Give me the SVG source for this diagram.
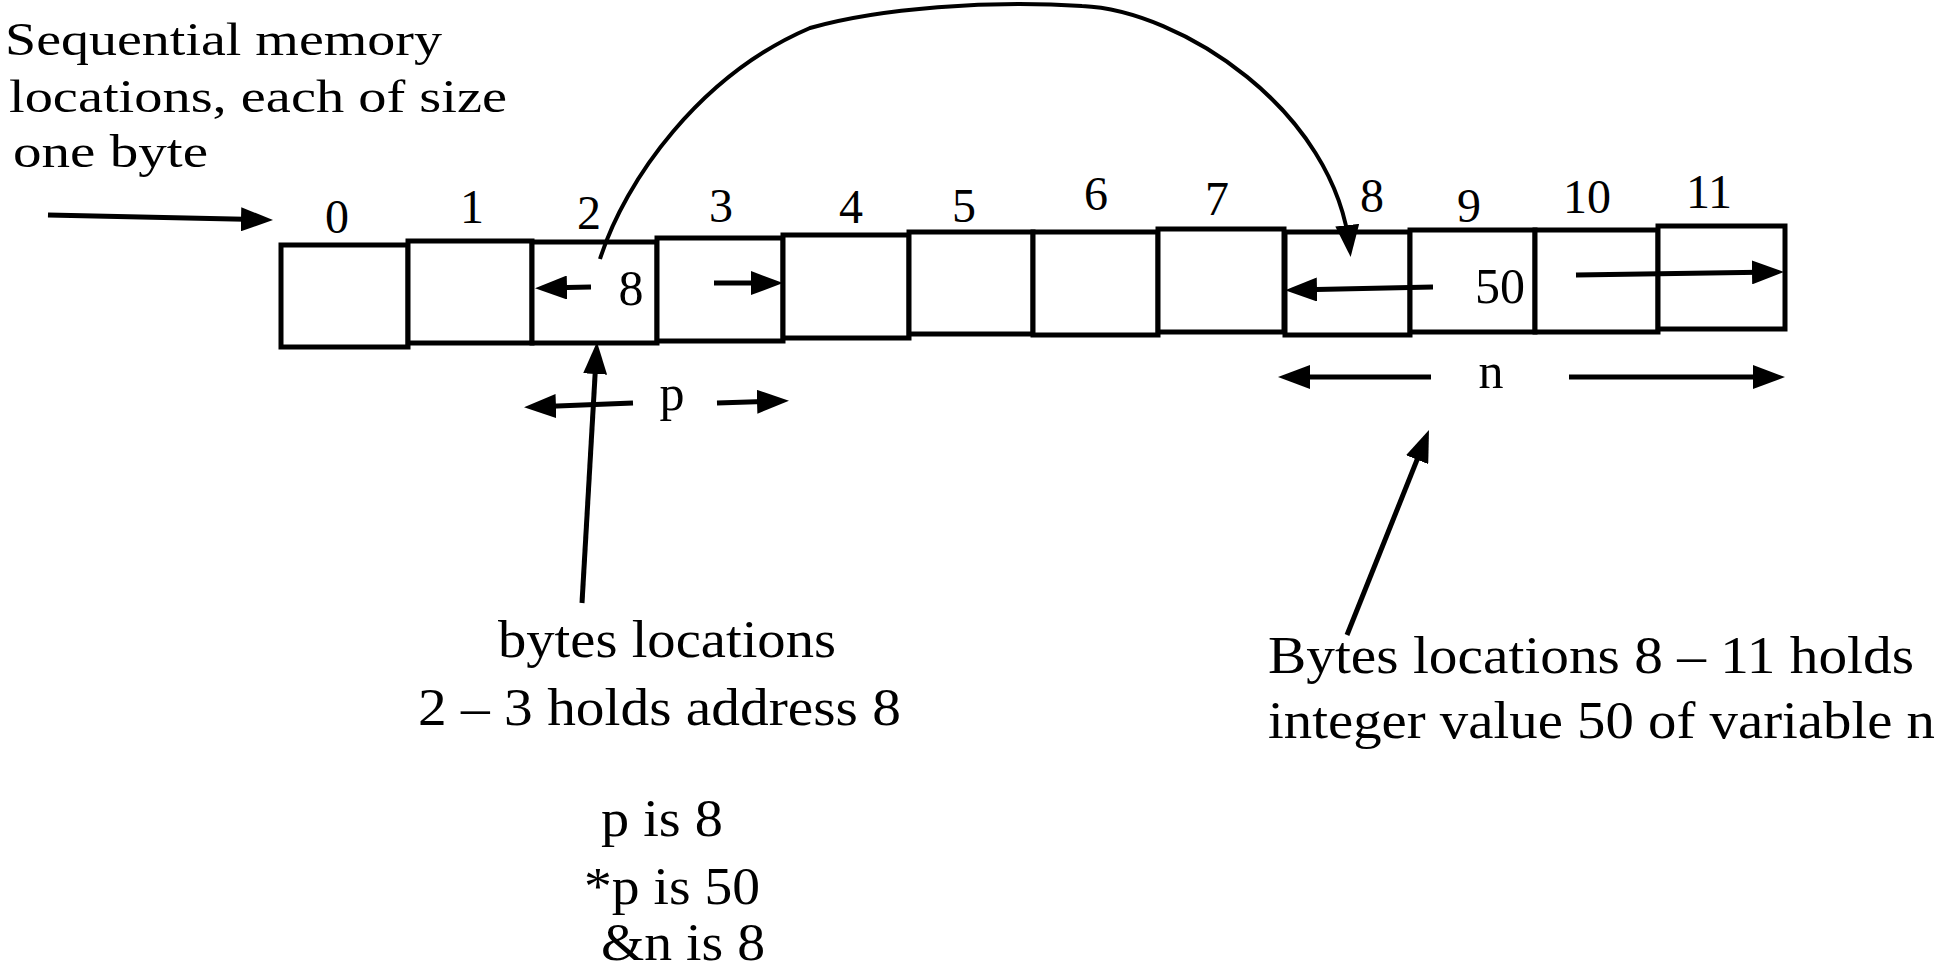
<svg xmlns="http://www.w3.org/2000/svg" width="1939" height="973" viewBox="0 0 1939 973">
<style>
text{font-family:"Liberation Serif","Times New Roman",serif;fill:#000}
.t{font-size:46px}
.b{font-size:52px}
.d{font-size:48px;text-anchor:middle}
.v{font-size:50px;text-anchor:middle}
.cell{fill:#fff;stroke:#000;stroke-width:5}
.arr{fill:none;stroke:#000;stroke-width:5;marker-end:url(#ah)}
.cur{fill:none;stroke:#000;stroke-width:4;marker-end:url(#ah)}
</style>
<defs>
<marker id="ah" markerUnits="userSpaceOnUse" markerWidth="32" markerHeight="24" viewBox="0 0 32 24" refX="24" refY="12" orient="auto">
<path d="M0,0 L32,12 L0,24 z" fill="#000"/>
</marker>
</defs>
<rect width="1939" height="973" fill="#fff"/>

<g id="note-sequential">
<text class="t" x="5" y="55" textLength="437" lengthAdjust="spacingAndGlyphs">Sequential memory</text>
<text class="t" x="9" y="112" textLength="498" lengthAdjust="spacingAndGlyphs">locations, each of size</text>
<text class="t" x="13" y="167" textLength="195" lengthAdjust="spacingAndGlyphs">one byte</text>
</g>

<g id="cell0"><rect class="cell" x="281" y="245" width="127" height="102"/><text class="d" x="337" y="233">0</text></g>
<g id="cell1"><rect class="cell" x="408" y="241" width="124" height="102"/><text class="d" x="472" y="223">1</text></g>
<g id="cell2"><rect class="cell" x="532" y="242" width="125" height="101"/><text class="d" x="589" y="229">2</text><text class="v" x="631" y="305">8</text></g>
<g id="cell3"><rect class="cell" x="657" y="238" width="126" height="103"/><text class="d" x="721" y="222">3</text></g>
<g id="cell4"><rect class="cell" x="783" y="235" width="126" height="103"/><text class="d" x="851" y="223">4</text></g>
<g id="cell5"><rect class="cell" x="909" y="232" width="124" height="102"/><text class="d" x="964" y="222">5</text></g>
<g id="cell6"><rect class="cell" x="1033" y="232" width="125" height="103"/><text class="d" x="1096" y="210">6</text></g>
<g id="cell7"><rect class="cell" x="1158" y="229" width="126" height="103"/><text class="d" x="1217" y="215">7</text></g>
<g id="cell8"><rect class="cell" x="1285" y="232" width="125" height="103"/><text class="d" x="1372" y="212">8</text></g>
<g id="cell9"><rect class="cell" x="1410" y="230" width="125" height="102"/><text class="d" x="1469" y="222">9</text><text class="v" x="1500" y="303">50</text></g>
<g id="cell10"><rect class="cell" x="1535" y="230" width="123" height="102"/><text class="d" x="1587" y="213">10</text></g>
<g id="cell11"><rect class="cell" x="1658" y="226" width="127" height="103"/><text class="d" x="1709" y="208">11</text></g>

<g id="label-p"><text class="v" x="672" y="410">p</text></g>
<g id="label-n"><text class="v" x="1491" y="388">n</text></g>

<g id="note-bytes-2-3">
<text class="b" x="498" y="657" textLength="338" lengthAdjust="spacingAndGlyphs">bytes locations</text>
<text class="b" x="418" y="725" textLength="483" lengthAdjust="spacingAndGlyphs">2 – 3 holds address 8</text>
</g>
<g id="note-values">
<text class="b" x="601" y="836" textLength="122" lengthAdjust="spacingAndGlyphs">p is 8</text>
<text class="b" x="584" y="904" textLength="176" lengthAdjust="spacingAndGlyphs">*p is 50</text>
<text class="b" x="601" y="960" textLength="164" lengthAdjust="spacingAndGlyphs">&amp;n is 8</text>
</g>
<g id="note-bytes-8-11">
<text class="b" x="1268" y="673" textLength="646" lengthAdjust="spacingAndGlyphs">Bytes locations 8 – 11 holds</text>
<text class="b" x="1268" y="738" textLength="667" lengthAdjust="spacingAndGlyphs">integer value 50 of variable n</text>
</g>

<g id="connectors">
<path class="arr" d="M48,215 L265,219.8"/>
<path class="arr" d="M591,287 L543,288"/>
<path class="arr" d="M714,283 L775,283"/>
<path class="arr" d="M582,603 L596.5,350"/>
<path class="arr" d="M633,403 L532,407"/>
<path class="arr" d="M717,403 L781,401"/>
<path class="arr" d="M1433,287 L1293,290"/>
<path class="arr" d="M1576,275 L1776,272"/>
<path class="arr" d="M1431,377 L1286,377"/>
<path class="arr" d="M1569,377 L1777,377"/>
<path class="arr" d="M1347,635 L1426,437.4"/>
<path class="cur" d="M600,259 C625,180 700,75 810,28 C880,8 990,0 1082,6 C1180,10 1335,110 1349.8,249"/>
</g>
</svg>
